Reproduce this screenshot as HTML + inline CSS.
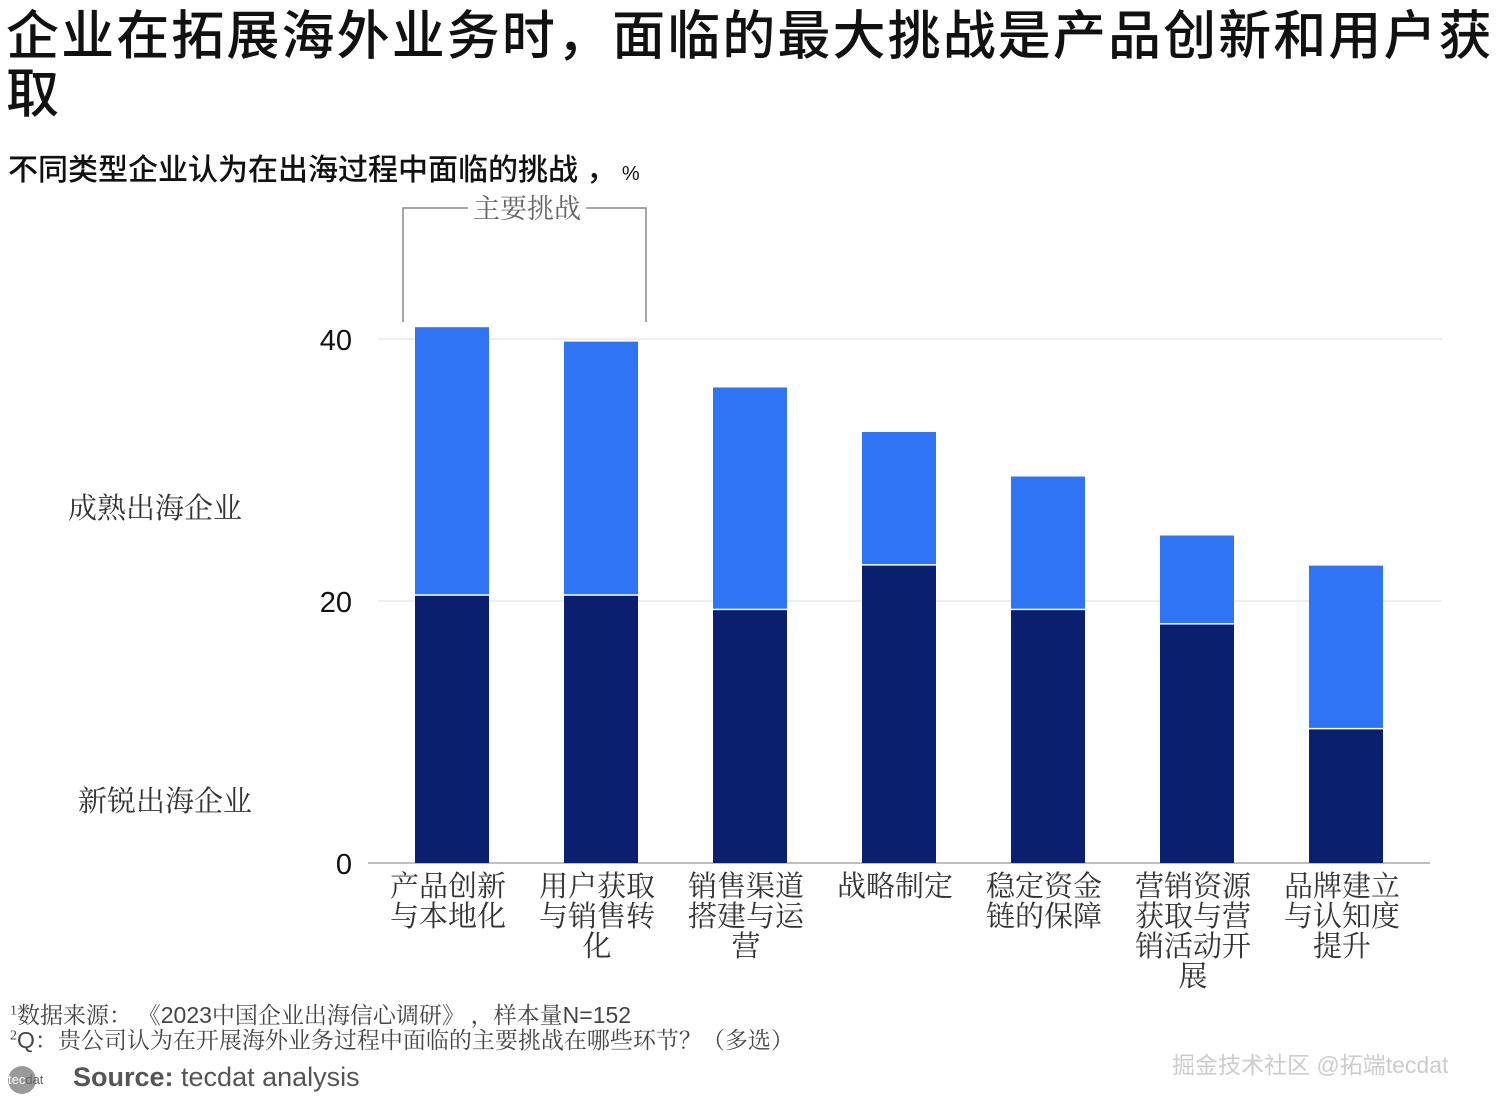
<!DOCTYPE html>
<html><head><meta charset="utf-8">
<style>
body{margin:0;width:1512px;height:1104px;background:#fff;overflow:hidden;position:relative;font-family:"Liberation Sans","Noto Sans CJK SC",sans-serif;}
.t{position:absolute;white-space:nowrap;}
.serif{font-family:"Liberation Serif","Noto Serif CJK SC",serif;}
</style></head>
<body>
<div class="t" style="left:6px;top:8px;font-size:53px;line-height:58px;letter-spacing:2.1px;color:#111;font-weight:500;width:1500px;white-space:normal;">企业在拓展海外业务时，面临的最大挑战是产品创新和用户获取</div>
<div class="t" style="left:8px;top:145px;font-size:30px;color:#111;font-weight:500;">不同类型企业认为在出海过程中面临的挑战 ，<span style="font-size:20px;font-weight:400"> %</span></div>
<div class="t serif" style="left:68px;top:486px;font-size:29px;color:#333;">成熟出海企业</div>
<div class="t serif" style="left:78px;top:779px;font-size:29px;color:#333;">新锐出海企业</div>
<svg id="chart" width="1512" height="1104" style="position:absolute;left:0;top:0"></svg>
<div class="t serif" style="left:10px;top:997px;font-size:23px;color:#444;"><sup style="font-size:14px">1</sup>数据来源： 《<span style="font-family:'Liberation Sans'">2023</span>中国企业出海信心调研》 ，样本量<span style="font-family:'Liberation Sans'">N=152</span></div>
<div class="t serif" style="left:10px;top:1022px;font-size:23px;color:#444;"><sup style="font-size:14px">2</sup><span style="font-family:'Liberation Sans'">Q</span>：贵公司认为在开展海外业务过程中面临的主要挑战在哪些环节？（多选）</div>
<div class="t" style="left:8px;top:1066px;width:28px;height:28px;border-radius:50%;background:#999;color:#fff;font-size:13px;line-height:28px;">tec<span style="color:#666">dat</span></div>
<div class="t" style="left:73px;top:1062px;font-size:27px;color:#555;"><b>Source:</b> tecdat analysis</div>
<div class="t" style="left:1172px;top:1046px;font-size:23px;color:#ccc;">掘金技术社区 @拓端tecdat</div>
<script>
const categories=[["产品创新","与本地化"],["用户获取","与销售转","化"],["销售渠道","搭建与运","营"],["战略制定"],["稳定资金","链的保障"],["营销资源","获取与营","销活动开","展"],["品牌建立","与认知度","提升"]];
const emerging=[20.4,20.4,19.3,22.7,19.3,18.2,10.2];
const mature=[20.5,19.4,17.0,10.2,10.2,6.8,12.5];
const ticks=[0,20,40];
const NS="http://www.w3.org/2000/svg";
const svg=document.getElementById('chart');
const y0=863,pxPer=13.1;
const yS=v=>y0-v*pxPer;
const xS=i=>415+i*149;
const bw=74;
function mk(t,a){const e=document.createElementNS(NS,t);for(const k in a)e.setAttribute(k,a[k]);svg.appendChild(e);return e;}
ticks.forEach(v=>{
 if(v>0){const g=mk('line',{x1:378,x2:1442,y1:yS(v),y2:yS(v),stroke:'#ddd','stroke-width':1});
 
 }
 const t=mk('text',{x:352,y:yS(v)+11,'text-anchor':'end','font-size':29,fill:'#111','font-family':'Liberation Sans'});
 t.textContent=v;
 
 
});
const base=mk('line',{x1:368,x2:1430,y1:y0,y2:y0,stroke:'#aaa','stroke-width':1.5});


categories.forEach((c,i)=>{
 const x=xS(i);
 const d=mk('rect',{x:x,y:yS(emerging[i]),width:bw,height:emerging[i]*pxPer,fill:'#0a1f6e'});
 
 
 const l=mk('rect',{x:x,y:yS(emerging[i]+mature[i]),width:bw,height:mature[i]*pxPer-1.5,fill:'#2e74f5'});
 
 
 c.forEach((s,j)=>{
  const t=mk('text',{x:x+bw/2-4,y:896+j*30,'text-anchor':'middle','font-size':29,fill:'#333','font-family':'Liberation Serif, Noto Serif CJK SC, serif'});
  t.textContent=s;
  
  
 });
});
const br=mk('path',{d:'M403 322 V208 H468 M586 208 H646 V322',fill:'none',stroke:'#888','stroke-width':1.5});


const bt=mk('text',{x:527,y:218,'text-anchor':'middle','font-size':27,fill:'#666','font-family':'Liberation Serif, Noto Serif CJK SC, serif'});
bt.textContent='主要挑战';


</script>
</body></html>
